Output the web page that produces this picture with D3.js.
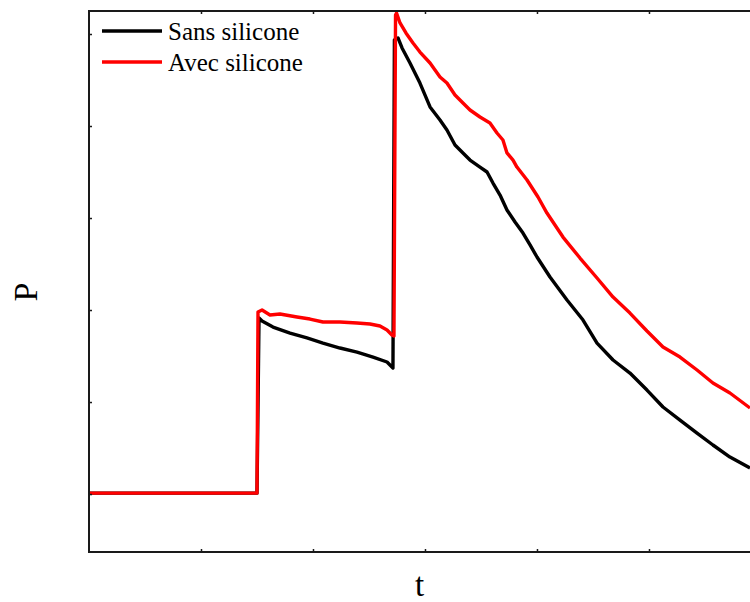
<!DOCTYPE html>
<html>
<head>
<meta charset="utf-8">
<script src="https://cdn.jsdelivr.net/npm/d3@7"></script>
<style>
  html, body { margin: 0; padding: 0; background: #fff; }
  svg { display: block; }
  text { font-family: "Liberation Serif", "Times New Roman", serif; fill: #000; }
</style>
</head>
<body>
<svg id="chart" width="750" height="602"></svg>
<script>
// Pressure trace, t (arbitrary units) vs P (arbitrary units)
const sansT = [0, 1.50, 1.518, 1.545, 1.643, 1.795, 1.946, 2.089, 2.241, 2.393, 2.536, 2.661, 2.714, 2.727, 2.759,
  2.795, 2.866, 2.955, 3.045, 3.134, 3.196, 3.268, 3.339, 3.402, 3.491, 3.554, 3.607, 3.670, 3.732, 3.804, 3.875,
  3.938, 4.0, 4.116, 4.268, 4.411, 4.536, 4.679, 4.830, 4.982, 5.125, 5.277, 5.429, 5.571, 5.723, 5.902];
const sansP = [1.01, 1.01, 2.913, 2.880, 2.815, 2.750, 2.696, 2.641, 2.587, 2.543, 2.489, 2.435, 2.370, 5.935, 5.957,
  5.848, 5.685, 5.467, 5.207, 5.065, 4.957, 4.793, 4.707, 4.630, 4.554, 4.500, 4.380, 4.250, 4.087, 3.957, 3.837,
  3.707, 3.576, 3.359, 3.109, 2.891, 2.641, 2.457, 2.315, 2.130, 1.946, 1.804, 1.663, 1.533, 1.402, 1.283];

const avecT = [0, 1.50, 1.509, 1.545, 1.616, 1.705, 1.857, 1.973, 2.089, 2.241, 2.393, 2.509, 2.598, 2.661, 2.705,
  2.723, 2.737, 2.746, 2.777, 2.830, 2.893, 2.955, 3.045, 3.134, 3.196, 3.268, 3.339, 3.402, 3.491, 3.580, 3.643,
  3.696, 3.732, 3.786, 3.821, 3.911, 4.009, 4.089, 4.232, 4.384, 4.536, 4.679, 4.830, 4.982, 5.125, 5.277, 5.429,
  5.571, 5.723, 5.902];
const avecP = [1.01, 1.01, 2.978, 3.000, 2.946, 2.957, 2.924, 2.902, 2.870, 2.870, 2.859, 2.848, 2.826, 2.783, 2.728,
  2.717, 6.207, 6.228, 6.120, 6.011, 5.902, 5.804, 5.685, 5.533, 5.467, 5.337, 5.250, 5.174, 5.098, 5.033, 4.924,
  4.848, 4.707, 4.630, 4.554, 4.413, 4.228, 4.054, 3.793, 3.565, 3.348, 3.141, 2.967, 2.772, 2.598, 2.489, 2.348,
  2.207, 2.098, 1.935];

const xTicks = [1, 2, 3, 4, 5];
const yTicks = [1, 2, 3, 4, 5, 6];

const seriesNames = ["Sans silicone", "Avec silicone"];
const seriesColors = ["#000000", "#ff0000"];

const svg = d3.select("#chart");
const plot = { left: 89, right: 750, top: 11, bottom: 552 };

const x = d3.scaleLinear().domain([0, 5.902]).range([plot.left, plot.right]);
const y = d3.scaleLinear().domain([0.37, 6.25]).range([plot.bottom, plot.top]);

svg.append("defs").append("clipPath").attr("id", "plotClip")
  .append("rect")
  .attr("x", plot.left).attr("y", plot.top)
  .attr("width", plot.right - plot.left).attr("height", plot.bottom - plot.top);

// Data lines
const line = d3.line().x(d => x(d[0])).y(d => y(d[1]));
const series = [
  { name: seriesNames[0], color: seriesColors[0], pts: d3.zip(sansT, sansP) },
  { name: seriesNames[1], color: seriesColors[1], pts: d3.zip(avecT, avecP) }
];
const lines = svg.append("g").attr("clip-path", "url(#plotClip)");
series.forEach(s => {
  lines.append("path")
    .datum(s.pts)
    .attr("d", line)
    .attr("fill", "none")
    .attr("stroke", s.color)
    .attr("stroke-width", 3.4)
    .attr("stroke-linejoin", "round")
    .attr("stroke-linecap", "butt");
});

// Frame with short inward ticks, no tick labels
const frame = svg.append("g");
frame.append("rect")
  .attr("x", plot.left).attr("y", plot.top)
  .attr("width", plot.right - plot.left + 2).attr("height", plot.bottom - plot.top)
  .attr("fill", "none").attr("stroke", "#1a1a1a").attr("stroke-width", 2);

const tickLen = 3;
const bottomAxis = d3.axisBottom(x).tickValues(xTicks).tickSize(-tickLen).tickFormat("");
const topAxis = d3.axisTop(x).tickValues(xTicks).tickSize(-tickLen).tickFormat("");
const leftAxis = d3.axisLeft(y).tickValues(yTicks).tickSize(-tickLen).tickFormat("");
[[bottomAxis, `translate(0,${plot.bottom})`], [topAxis, `translate(0,${plot.top})`], [leftAxis, `translate(${plot.left},0)`]]
  .forEach(([ax, tr]) => {
    const g = frame.append("g").attr("transform", tr).call(ax);
    g.select(".domain").remove();
    g.selectAll(".tick line").attr("stroke", "#1a1a1a").attr("stroke-width", 1.5);
  });

// Axis titles
svg.append("text")
  .attr("x", (plot.left + plot.right) / 2).attr("y", 596)
  .attr("text-anchor", "middle").attr("font-size", 33)
  .text("t");
svg.append("text")
  .attr("transform", "translate(37,292) rotate(-90)")
  .attr("text-anchor", "middle").attr("font-size", 34)
  .text("P");

// Legend
const legend = svg.append("g");
series.forEach((s, i) => {
  const ly = 31 + i * 31;
  legend.append("line")
    .attr("x1", 102).attr("x2", 162).attr("y1", ly).attr("y2", ly)
    .attr("stroke", s.color).attr("stroke-width", 3.4);
  legend.append("text")
    .attr("x", 168).attr("y", ly + 9)
    .attr("font-size", 25)
    .text(s.name);
});
</script>
</body>
</html>
